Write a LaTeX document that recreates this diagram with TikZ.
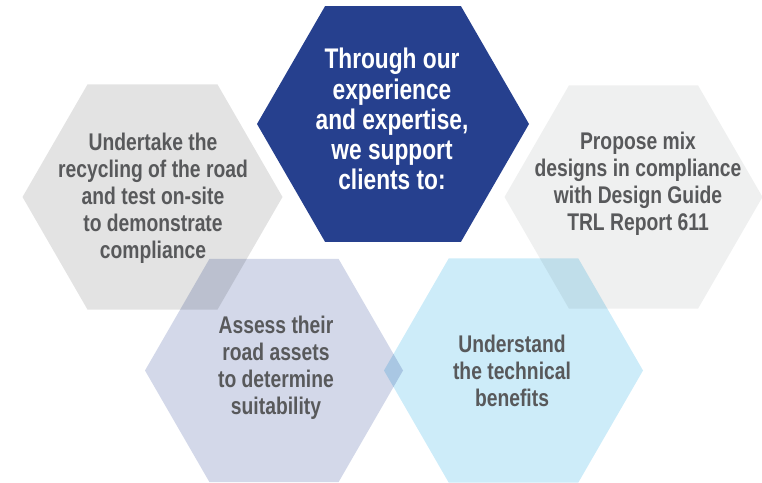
\documentclass[tikz,border=0pt]{standalone}
\usepackage{fontspec}
\setmainfont{Liberation Sans}[FakeStretch=0.8]
\begin{document}
\definecolor{hexnavy}{RGB}{38,64,142}
\definecolor{hexgray}{RGB}{227,227,227}
\definecolor{hexpale}{RGB}{239,240,240}
\definecolor{hexlilac}{RGB}{211,216,233}
\definecolor{hexsky}{RGB}{205,236,249}
\definecolor{txtgray}{RGB}{88,89,91}
% flat-topped regular hexagon centred at (#1,#2) with circumradius #3
\newcommand{\hexat}[3]{(#1+#3,#2) -- (#1+#3/2,#2+0.866*#3) -- (#1-#3/2,#2+0.866*#3) -- (#1-#3,#2) -- (#1-#3/2,#2-0.866*#3) -- (#1+#3/2,#2-0.866*#3) -- cycle}
\begin{tikzpicture}[x=1bp,y=-1bp,
  hexfill/.style={blend mode=multiply},
  label/.style={align=center,font=\bfseries\fontsize{24.2}{27.2}\selectfont,text=txtgray,inner sep=0pt},
  lead/.style={align=center,font=\bfseries\fontsize{28.5}{30.2}\selectfont,text=white,inner sep=0pt}]
\useasboundingbox (0,0) rectangle (762,483);
% outer hexagons
\fill[hexgray,hexfill] \hexat{152.5}{197}{130};
\fill[hexpale,hexfill] \hexat{633.5}{197}{129};
\fill[hexlilac,hexfill] \hexat{274}{370.5}{129};
\fill[hexsky,hexfill] \hexat{513.5}{370.5}{129.5};
% central hexagon
\fill[hexnavy] \hexat{393}{124}{136};
% texts
\node[lead] (intro) at (392,119) {Through our\\experience\\and expertise,\\we support\\clients to:};
\node[label] (recycle) at (153,198) {Undertake the\\recycling of the road\\and test on-site\\to demonstrate\\compliance};
\node[label] (mix) at (638,184) {Propose mix\\designs in compliance\\with Design Guide\\TRL Report 611};
\node[label] (assess) at (276,368) {Assess their\\road assets\\to determine\\suitability};
\node[label] (benefits) at (512,371) {Understand\\the technical\\benefits};
\end{tikzpicture}
\end{document}
